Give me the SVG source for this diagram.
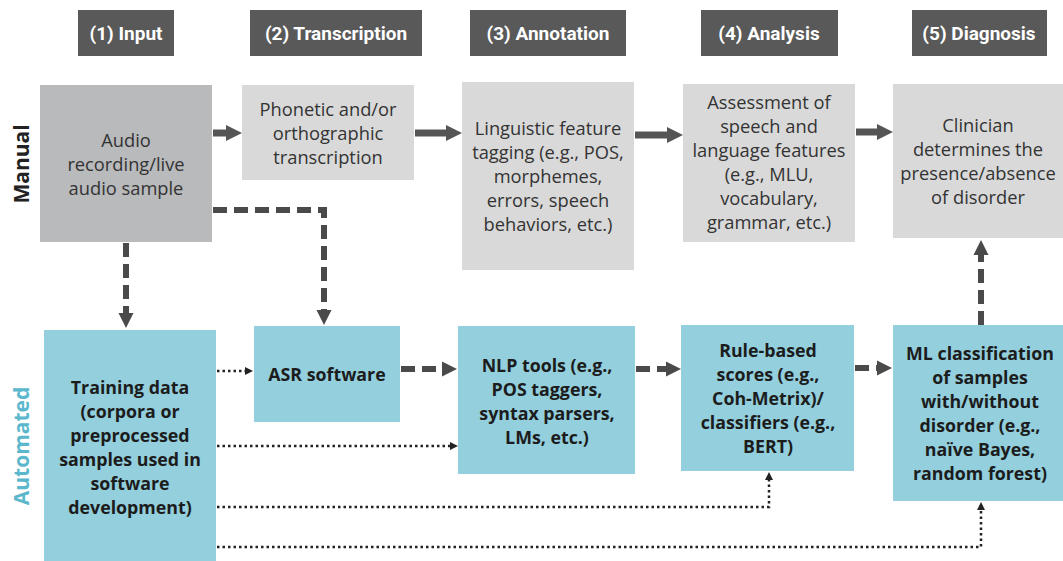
<svg xmlns="http://www.w3.org/2000/svg" width="1063" height="561" viewBox="0 0 1063 561">
<defs>
<style>
.hdr{fill:#595959}
.hdrt{font-family:Roboto,"Liberation Sans",sans-serif;font-weight:bold;font-size:19px;fill:#fff;text-anchor:middle}
.man{fill:#d9d9d9}
.mant{font-family:"Open Sans","Liberation Sans",sans-serif;font-size:18.3px;fill:#333;text-anchor:middle}
.aut{fill:#93cfdc}
.autt{font-family:"Open Sans","Liberation Sans",sans-serif;font-weight:bold;font-size:17.8px;fill:#1c1c1c;text-anchor:middle}
.solid{stroke:#555;stroke-width:7;fill:none}
.dash{stroke:#4a4a4a;stroke-width:6;stroke-dasharray:14 7;fill:none}
.dot{stroke:#222;stroke-width:2.5;stroke-dasharray:2.5 3;fill:none}
.lane{font-family:"Open Sans","Liberation Sans",sans-serif;font-weight:bold;font-size:21px;text-anchor:middle}
</style>
<marker id="hs" viewBox="0 0 10 10" markerUnits="userSpaceOnUse" markerWidth="16" markerHeight="21" refX="0" refY="5" orient="auto"><path d="M0,0 L10,5 L0,10 z" fill="#555"/></marker>
<marker id="hd" viewBox="0 0 10 10" markerUnits="userSpaceOnUse" markerWidth="15" markerHeight="17" refX="0" refY="5" orient="auto"><path d="M0,0 L10,5 L0,10 z" fill="#4a4a4a"/></marker>
<marker id="ht" viewBox="0 0 10 10" markerUnits="userSpaceOnUse" markerWidth="8" markerHeight="9" refX="0" refY="5" orient="auto"><path d="M0,0 L10,5 L0,10 z" fill="#222"/></marker>
</defs>
<rect width="1063" height="561" fill="#fff"/>

<g id="hdr1"><rect class="hdr" x="78" y="10" width="96" height="46"/><text class="hdrt" x="126" y="40">(1) Input</text></g>
<g id="hdr2"><rect class="hdr" x="250" y="10" width="172" height="46"/><text class="hdrt" x="336" y="40">(2) Transcription</text></g>
<g id="hdr3"><rect class="hdr" x="470" y="10" width="156" height="46"/><text class="hdrt" x="548" y="40">(3) Annotation</text></g>
<g id="hdr4"><rect class="hdr" x="701" y="10" width="137" height="46"/><text class="hdrt" x="769" y="40">(4) Analysis</text></g>
<g id="hdr5"><rect class="hdr" x="912" y="10" width="135" height="46"/><text class="hdrt" x="979" y="40">(5) Diagnosis</text></g>

<g id="lane-manual"><text class="lane" fill="#222" transform="translate(29,164) rotate(-90)">Manual</text></g>
<g id="lane-automated"><text class="lane" fill="#5bb8cc" transform="translate(29,446) rotate(-90)">Automated</text></g>

<g id="audio"><rect x="40" y="85" width="172" height="157" fill="#b9babc"/>
<text class="mant" x="126" y="147">Audio</text><text class="mant" x="126" y="171">recording/live</text><text class="mant" x="126" y="195">audio sample</text></g>
<g id="phonetic"><rect class="man" x="242" y="85" width="172" height="95"/>
<text class="mant" x="328" y="116">Phonetic and/or</text><text class="mant" x="328" y="140">orthographic</text><text class="mant" x="328" y="164">transcription</text></g>
<g id="linguistic"><rect class="man" x="462" y="82" width="172" height="188"/>
<text class="mant" x="548" y="135">Linguistic feature</text><text class="mant" x="548" y="159">tagging (e.g., POS,</text><text class="mant" x="548" y="183">morphemes,</text><text class="mant" x="548" y="207">errors, speech</text><text class="mant" x="548" y="231">behaviors, etc.)</text></g>
<g id="assessment"><rect class="man" x="683" y="84" width="172" height="158"/>
<text class="mant" x="769" y="109">Assessment of</text><text class="mant" x="769" y="133">speech and</text><text class="mant" x="769" y="157">language features</text><text class="mant" x="769" y="181">(e.g., MLU,</text><text class="mant" x="769" y="205">vocabulary,</text><text class="mant" x="769" y="229">grammar, etc.)</text></g>
<g id="clinician"><rect class="man" x="893" y="84" width="170" height="154"/>
<text class="mant" x="978" y="132">Clinician</text><text class="mant" x="978" y="156">determines the</text><text class="mant" x="978" y="180">presence/absence</text><text class="mant" x="978" y="204">of disorder</text></g>

<g id="training"><rect class="aut" x="44" y="330" width="172" height="231"/>
<text class="autt" x="130" y="394">Training data</text><text class="autt" x="130" y="418">(corpora or</text><text class="autt" x="130" y="442">preprocessed</text><text class="autt" x="130" y="466">samples used in</text><text class="autt" x="130" y="490">software</text><text class="autt" x="130" y="514">development)</text></g>
<g id="asr"><rect class="aut" x="254" y="326" width="146" height="96"/>
<text class="autt" x="327" y="381">ASR software</text></g>
<g id="nlp"><rect class="aut" x="458" y="326" width="177" height="148"/>
<text class="autt" x="547" y="372">NLP tools (e.g.,</text><text class="autt" x="547" y="396">POS taggers,</text><text class="autt" x="547" y="420">syntax parsers,</text><text class="autt" x="547" y="444">LMs, etc.)</text></g>
<g id="rule"><rect class="aut" x="681" y="325" width="173" height="146"/>
<text class="autt" x="768" y="357">Rule-based</text><text class="autt" x="768" y="381">scores (e.g.,</text><text class="autt" x="768" y="405">Coh-Metrix)/</text><text class="autt" x="768" y="429">classifiers (e.g.,</text><text class="autt" x="768" y="453">BERT)</text></g>
<g id="ml"><rect class="aut" x="893" y="325" width="170" height="176"/>
<text class="autt" x="980" y="360">ML classification</text><text class="autt" x="980" y="384">of samples</text><text class="autt" x="980" y="408">with/without</text><text class="autt" x="980" y="432">disorder (e.g.,</text><text class="autt" x="980" y="456">naïve Bayes,</text><text class="autt" x="980" y="480">random forest)</text></g>

<g id="connectors">
<path class="solid" d="M213,133 H226" marker-end="url(#hs)"/>
<path class="solid" d="M415,133 H446" marker-end="url(#hs)"/>
<path class="solid" d="M635,135 H667" marker-end="url(#hs)"/>
<path class="solid" d="M856,132 H877" marker-end="url(#hs)"/>
<path class="dash" d="M213,210 H324 V310" marker-end="url(#hd)"/>
<path class="dash" d="M126,243 V313" marker-end="url(#hd)"/>
<path class="dash" d="M401,369 H442" marker-end="url(#hd)"/>
<path class="dash" d="M636,369 H666" marker-end="url(#hd)"/>
<path class="dash" d="M855,368 H877" marker-end="url(#hd)"/>
<path class="dash" d="M981,325 V255" marker-end="url(#hd)"/>
<path class="dot" d="M217,371 H245" marker-end="url(#ht)"/>
<path class="dot" d="M217,446 H450" marker-end="url(#ht)"/>
<path class="dot" d="M217,507 H769 V480" marker-end="url(#ht)"/>
<path class="dot" d="M217,547 H981 V510" marker-end="url(#ht)"/>
</g>
</svg>
